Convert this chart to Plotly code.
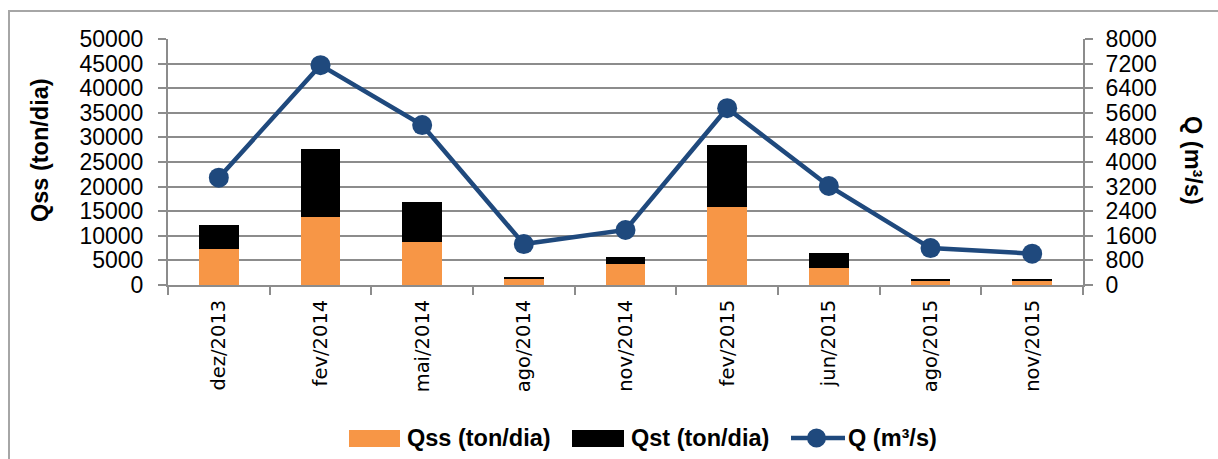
import plotly.graph_objects as go

categories = ["dez/2013", "fev/2014", "mai/2014", "ago/2014", "nov/2014",
              "fev/2015", "jun/2015", "ago/2015", "nov/2015"]
qss = [7400, 13800, 8700, 1150, 4300, 15850, 3500, 800, 1000]
qst_total = [12200, 27700, 16800, 1620, 5750, 28450, 6500, 1220, 1300]
qst = [t - s for t, s in zip(qst_total, qss)]
q = [3490, 7150, 5200, 1330, 1790, 5750, 3220, 1200, 1020]

left_ticks = [0, 5000, 10000, 15000, 20000, 25000, 30000, 35000, 40000, 45000, 50000]
right_ticks = [0, 800, 1600, 2400, 3200, 4000, 4800, 5600, 6400, 7200, 8000]

ORANGE = "#F79646"
NAVY = "#1F497D"
GRID = "#8C8C8C"
FONT = "Liberation Sans"

fig = go.Figure()
fig.add_trace(go.Bar(x=categories, y=qss, name="Qss (ton/dia)",
                     marker=dict(color=ORANGE, line=dict(width=0))))
fig.add_trace(go.Bar(x=categories, y=qst, name="Qst (ton/dia)",
                     marker=dict(color="#000000", line=dict(width=0))))
fig.add_trace(go.Scatter(x=categories, y=q, name="Q (m³/s)", yaxis="y2",
                         mode="lines+markers",
                         line=dict(color=NAVY, width=4.5),
                         marker=dict(color=NAVY, size=20)))

W, H = 1218, 459
L, R, T, B = 168, 135, 39, 174
pw = W - L - R
ph = H - T - B


def px(x):
    return (x - L) / pw


def py(y):
    return (H - B - y) / ph


# custom legend (swatches + labels) in paper coordinates
LEG_Y = 438
legend_shapes = [
    dict(type="rect", xref="paper", yref="paper",
         x0=px(349), x1=px(400), y0=py(447), y1=py(430),
         fillcolor=ORANGE, line=dict(width=0)),
    dict(type="rect", xref="paper", yref="paper",
         x0=px(572), x1=px(624), y0=py(447), y1=py(430),
         fillcolor="#000000", line=dict(width=0)),
    dict(type="line", xref="paper", yref="paper",
         x0=px(791), x1=px(845), y0=py(LEG_Y), y1=py(LEG_Y),
         line=dict(color=NAVY, width=4.5)),
    dict(type="circle", xref="paper", yref="paper",
         x0=px(807), x1=px(826), y0=py(LEG_Y + 9.5), y1=py(LEG_Y - 9.5),
         fillcolor=NAVY, line=dict(width=0)),
]
legend_labels = [(405, "Qss (ton/dia)"), (629, "Qst (ton/dia)"), (846, "Q (m³/s)")]
legend_annotations = [
    dict(text="<b>%s</b>" % t, xref="paper", yref="paper", x=px(x0), y=py(LEG_Y),
         xanchor="left", yanchor="middle", showarrow=False,
         font=dict(family=FONT, size=23.5, color="#000000"))
    for x0, t in legend_labels
]

fig.update_layout(
    width=W, height=H,
    margin=dict(l=L, r=R, t=T, b=B, pad=0, autoexpand=False),
    paper_bgcolor="white", plot_bgcolor="white",
    barmode="stack", bargap=0.61,
    font=dict(family=FONT, size=23, color="#000000"),
    showlegend=False,
    xaxis=dict(
        type="category", tickangle=-90, showgrid=False,
        showline=True, linecolor=GRID, linewidth=2,
        ticks="outside", tickson="boundaries", ticklen=8, tickcolor=GRID, tickwidth=2,
        tickfont=dict(family="DejaVu Sans", size=19.5, color="#000000"),
        ticklabelstandoff=5, automargin=False,
        range=[-0.5, len(categories) - 0.5],
    ),
    yaxis=dict(
        range=[0, 50000], tickvals=left_ticks, ticktext=[str(v) for v in left_ticks],
        showgrid=True, gridcolor=GRID, gridwidth=2,
        showline=True, linecolor=GRID, linewidth=2,
        ticks="outside", ticklen=8, tickcolor=GRID, tickwidth=2,
        tickfont=dict(family=FONT, size=23, color="#000000"),
        ticklabelstandoff=10, zeroline=False, automargin=False,
    ),
    yaxis2=dict(
        range=[0, 8000], tickvals=right_ticks, ticktext=[str(v) for v in right_ticks],
        overlaying="y", side="right", showgrid=False,
        showline=True, linecolor=GRID, linewidth=2,
        ticks="outside", ticklen=8, tickcolor=GRID, tickwidth=2,
        tickfont=dict(family=FONT, size=23, color="#000000"),
        ticklabelstandoff=8, zeroline=False, automargin=False,
    ),
    annotations=[
        dict(text="<b>Qss (ton/dia)</b>", xref="paper", yref="paper",
             x=px(40), y=py(150), textangle=-90, showarrow=False,
             xanchor="center", yanchor="middle",
             font=dict(family=FONT, size=23.5, color="#000000")),
        dict(text="<b>Q (m³/s)</b>", xref="paper", yref="paper",
             x=px(1193), y=py(160), textangle=90, showarrow=False,
             xanchor="center", yanchor="middle",
             font=dict(family=FONT, size=23.5, color="#000000")),
    ] + legend_annotations,
    shapes=[
        dict(type="rect", xref="paper", yref="paper",
             x0=px(9), x1=px(1230), y0=py(470), y1=py(11),
             line=dict(color="#A6A6A6", width=2), layer="below"),
    ] + legend_shapes,
)

fig.write_html("out.html")
